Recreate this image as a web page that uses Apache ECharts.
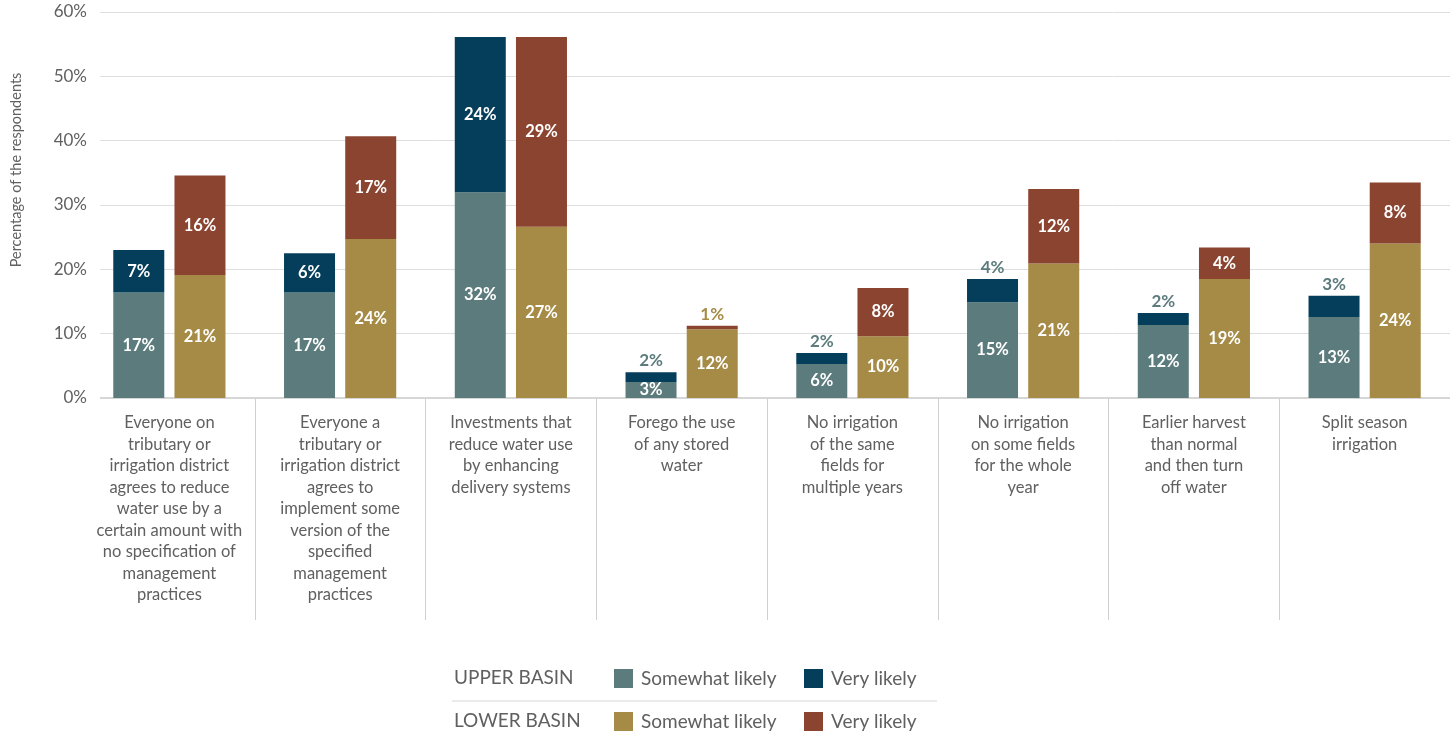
<!DOCTYPE html>
<html>
<head>
<meta charset="utf-8">
<script src="https://cdn.jsdelivr.net/npm/echarts@6/dist/echarts.min.js"></script>
<style>
html,body{margin:0;padding:0;background:#fff;}
#chart{width:1450px;height:738px;}
</style>
</head>
<body>
<div id="chart"></div>
<script>
// ---- data ----
var categories = [
  "Everyone on\ntributary or\nirrigation district\nagrees to reduce\nwater use by a\ncertain amount with\nno specification of\nmanagement\npractices",
  "Everyone a\ntributary or\nirrigation district\nagrees to\nimplement some\nversion of the\nspecified\nmanagement\npractices",
  "Investments that\nreduce water use\nby enhancing\ndelivery systems",
  "Forego the use\nof any stored\nwater",
  "No irrigation\nof the same\nfields for\nmultiple years",
  "No irrigation\non some fields\nfor the whole\nyear",
  "Earlier harvest\nthan normal\nand then turn\noff water",
  "Split season\nirrigation"
];
// bar segment heights (percent of respondents)
var upperSomewhat = [16.4, 16.4, 32.0, 2.5, 5.3, 14.9, 11.35, 12.6];
var upperVery     = [6.6, 6.1, 24.1, 1.5, 1.7, 3.6, 1.85, 3.3];
var lowerSomewhat = [19.1, 24.7, 26.6, 10.7, 9.6, 20.9, 18.5, 24.0];
var lowerVery     = [15.5, 16.0, 29.5, 0.55, 7.5, 11.6, 4.9, 9.5];
// printed segment labels
var upperSomewhatLabels = ["17%", "17%", "32%", "3%", "6%", "15%", "12%", "13%"];
var upperVeryLabels     = ["7%", "6%", "24%", "2%", "2%", "4%", "2%", "3%"];
var lowerSomewhatLabels = ["21%", "24%", "27%", "12%", "10%", "21%", "19%", "24%"];
var lowerVeryLabels     = ["16%", "17%", "29%", "1%", "8%", "12%", "4%", "8%"];
var yTicks = [0, 10, 20, 30, 40, 50, 60];
var legendRows = ["UPPER BASIN", "LOWER BASIN"];
var legendItems = ["Somewhat likely", "Very likely"];

// ---- style ----
var FONT = "Lato";
var C_US = "#5c7b7d", C_UV = "#043e5a", C_LS = "#a68b46", C_LV = "#8a4430";
var TXT = "#606060";

function buildData(values, labels, color, outsideColor, isTop) {
  return values.map(function (v, i) {
    var small = isTop && v < 4;
    return {
      value: v,
      label: small ? {
        position: "top", distance: 3, color: outsideColor, fontSize: 17,
        formatter: labels[i]
      } : { position: "inside", color: "#fff", formatter: labels[i] }
    };
  });
}

var labelBase = { show: true, fontFamily: FONT, fontWeight: "bold", fontSize: 16.5 };

var names = ["Upper Somewhat likely", "Upper Very likely", "Lower Somewhat likely", "Lower Very likely"];

var series = [
  { name: names[0], type: "bar", stack: "upper", xAxisIndex: 0, yAxisIndex: 0,
    barWidth: 51, barGap: "20%", itemStyle: { color: C_US }, label: labelBase,
    data: buildData(upperSomewhat, upperSomewhatLabels, C_US, C_US, false) },
  { name: names[1], type: "bar", stack: "upper", xAxisIndex: 0, yAxisIndex: 0,
    barWidth: 51, barGap: "20%", itemStyle: { color: C_UV }, label: labelBase,
    data: buildData(upperVery, upperVeryLabels, C_UV, C_US, true) },
  { name: names[2], type: "bar", stack: "lower", xAxisIndex: 0, yAxisIndex: 0,
    barWidth: 51, barGap: "20%", itemStyle: { color: C_LS }, label: labelBase,
    data: buildData(lowerSomewhat, lowerSomewhatLabels, C_LS, C_LS, false) },
  { name: names[3], type: "bar", stack: "lower", xAxisIndex: 0, yAxisIndex: 0,
    barWidth: 51, barGap: "20%", itemStyle: { color: C_LV }, label: labelBase,
    data: buildData(lowerVery, lowerVeryLabels, C_LV, C_LS, true) }
];

function legendFor(idx, left, top) {
  return {
    data: [names[idx]], left: left, top: top, padding: 0,
    icon: "rect", itemWidth: 19, itemHeight: 19,
    selectedMode: false,
    formatter: function (n) { return legendItems[idx % 2]; },
    textStyle: { fontFamily: FONT, fontSize: 19, color: TXT, padding: [0, 0, 0, 3] }
  };
}

var option = {
  animation: false,
  backgroundColor: "#fff",
  grid: [
    { left: 84, top: 12, width: 1372, height: 386, containLabel: false },
    { left: 100, top: 12, right: 0, height: 386, containLabel: false }
  ],
  xAxis: [
    { type: "category", gridIndex: 0, data: categories, boundaryGap: true,
      axisLine: { show: false },
      axisTick: { show: true, length: 222, interval: function (i) { return i !== 0; },
        lineStyle: { color: "#d0d0d0", width: 1 } },
      axisLabel: { interval: 0, margin: 14, fontFamily: FONT, fontSize: 16.5,
        lineHeight: 21.5, color: TXT, align: "center" } },
    { type: "value", gridIndex: 1, min: 0, max: 1, show: true,
      axisLine: { show: false }, axisTick: { show: false }, axisLabel: { show: false },
      splitLine: { show: false } }
  ],
  yAxis: [
    { type: "value", gridIndex: 0, min: 0, max: 60, show: false },
    { type: "value", gridIndex: 1, min: yTicks[0], max: yTicks[yTicks.length - 1], interval: 10,
      axisLine: { show: false }, axisTick: { show: false },
      axisLabel: { margin: 13, fontFamily: FONT, fontSize: 17, color: TXT,
        formatter: function (v) { return v + "%"; } },
      splitLine: { lineStyle: { color: "#dedede", width: 1 } } }
  ],
  legend: [
    legendFor(0, 614, 669), legendFor(1, 804, 669),
    legendFor(2, 614, 712), legendFor(3, 804, 712)
  ],
  graphic: [
    { type: "text", left: 454, top: 668, style: { text: legendRows[0], font: "19px " + FONT, fill: TXT } },
    { type: "text", left: 454, top: 711, style: { text: legendRows[1], font: "19px " + FONT, fill: TXT } },
    { type: "line", shape: { x1: 452, y1: 701, x2: 937, y2: 701 }, style: { stroke: "#d6d6d6", lineWidth: 1 } },
    { type: "line", shape: { x1: 100, y1: 398, x2: 1450, y2: 398 }, style: { stroke: "#d6d6d6", lineWidth: 2 }, z: 1 },
    { type: "text", x: 16, y: 170, rotation: Math.PI / 2, style: {
        text: "Percentage of the respondents", font: "14.5px " + FONT, fill: TXT,
        align: "center", verticalAlign: "middle" } }
  ],
  series: series
};

var chart = echarts.init(document.getElementById("chart"), null, { renderer: "canvas" });
chart.setOption(option);
</script>
</body>
</html>
